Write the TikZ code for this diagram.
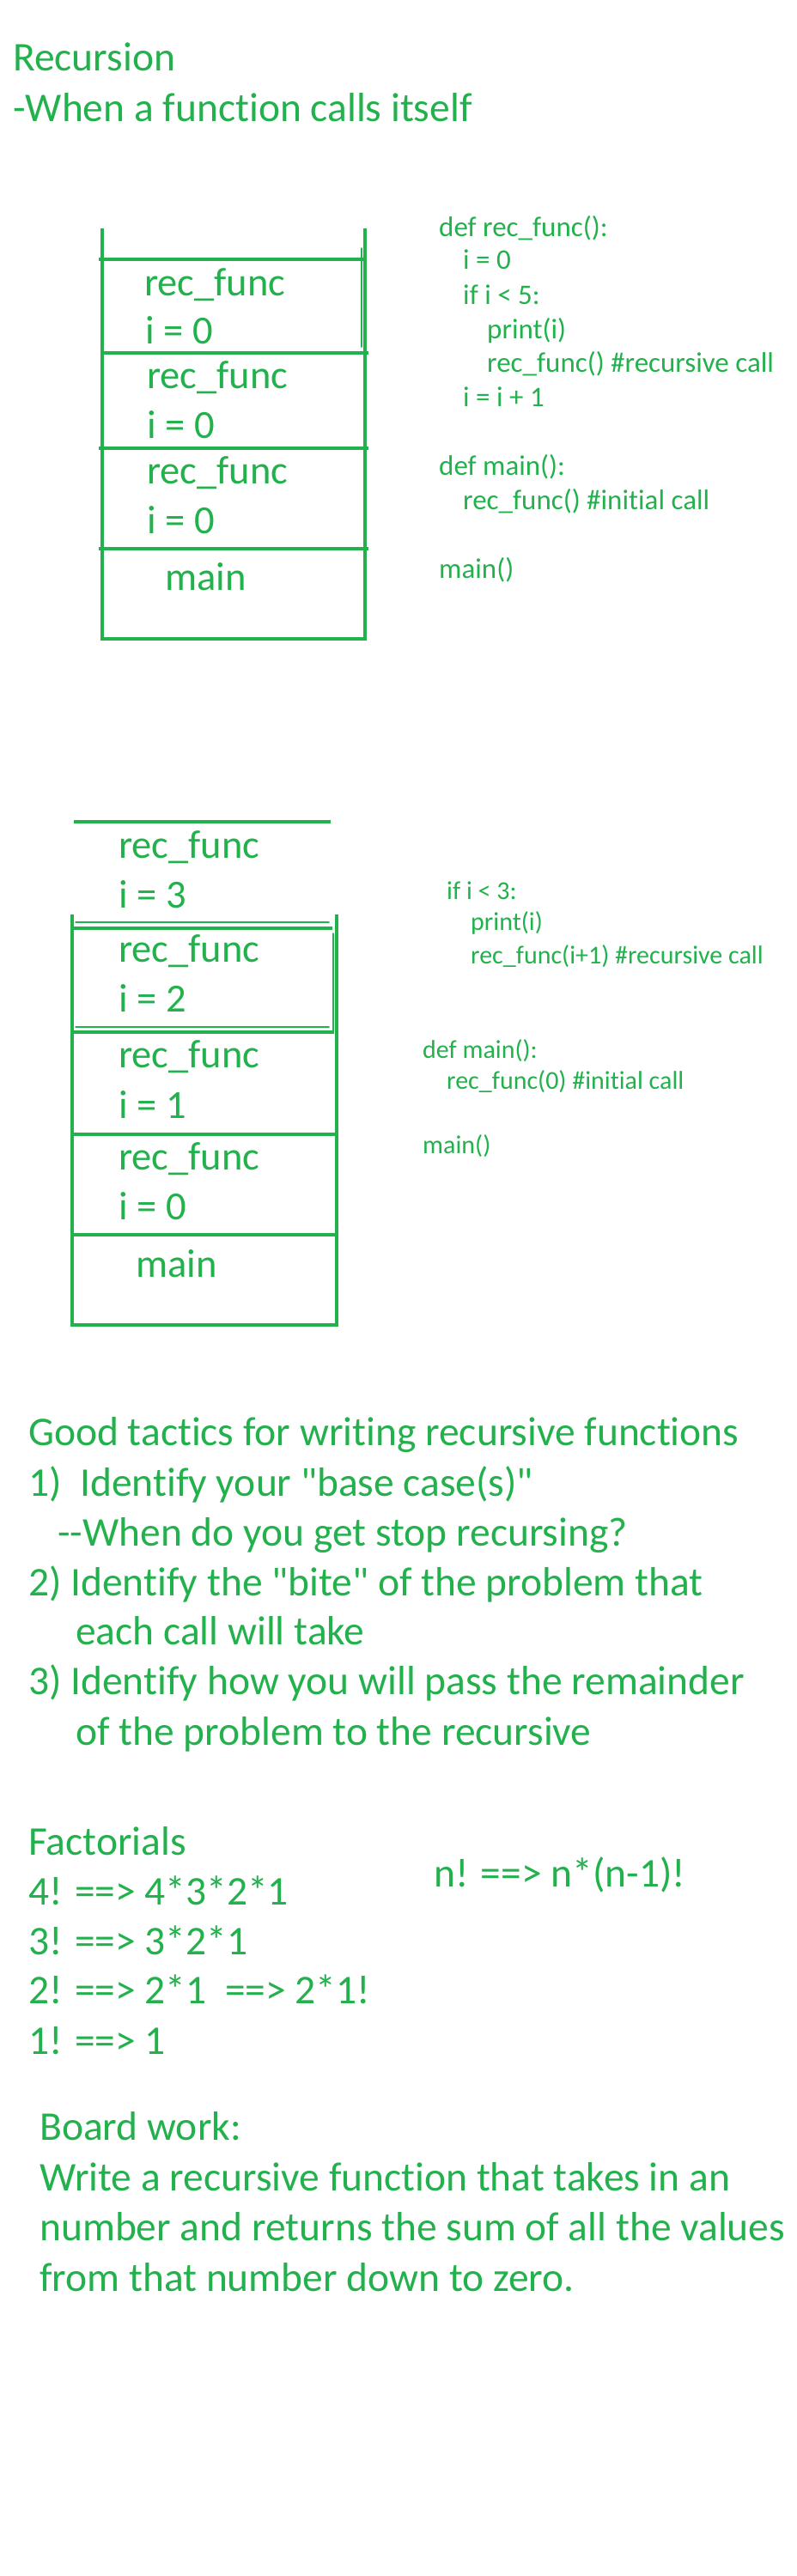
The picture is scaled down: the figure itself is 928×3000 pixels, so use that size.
\documentclass[tikz,border=0pt]{standalone}
\usepackage{fontspec}
\setmainfont{Carlito}[Ligatures={TeXOff,NoCommon}]
\usepackage{tkz-euclide}
\definecolor{paint}{RGB}{34,177,76}
\tikzset{
  txt/.style={anchor=base west,inner sep=0pt,text=paint,font=\fontsize{47.5}{56}\selectfont},
  cell/.style={txt,font=\fontsize{46.5}{56}\selectfont},
  code/.style={txt,font=\fontsize{33}{38}\selectfont},
  smallcode/.style={txt,font=\fontsize{30}{36}\selectfont},
  thinseg/.style={line width=1.5pt,color=paint}
}

\begin{document}
\begin{tikzpicture}[x=1pt,y=-1pt]
\useasboundingbox (0,0) rectangle (928,3000);
\tkzSetUpLine[line width=4pt,color=paint]

% title
\node[txt] (title) at (15,83) {Recursion};
\node[txt] (def) at (15,142) {-When a function calls itself};

% first stack
\tkzDefPoints{119/268/P1,119/744/P2,425/268/P3,425/744/P4}
\tkzDefPoints{117/302/Q1,422/302/Q2,122/411/Q3,427/411/Q4,
  117/522/Q5,427/522/Q6,117/639/Q7,427/639/Q8,421/289/R1,421/404/R2}
\tkzDrawSegments[line cap=rect](P1,P2 P3,P4 P2,P4 Q1,Q2 Q3,Q4 Q5,Q6 Q7,Q8)
\tkzDrawSegments[thinseg](R1,R2)

\node[cell] (fa1) at (168,344) {rec\_func};
\node[cell] (ia1) at (169,400) {i = 0};
\node[cell] (fa2) at (171,452) {rec\_func};
\node[cell] (ia2) at (171,510) {i = 0};
\node[cell] (fa3) at (171,563) {rec\_func};
\node[cell] (ia3) at (171,621) {i = 0};
\node[cell] (ma) at (192,687) {main};

% first code
\node[code] (ca1) at (511,275) {def rec\_func():};
\node[code] (ca2) at (539,313) {i = 0};
\node[code] (ca3) at (539,354) {if i < 5:};
\node[code] (ca4) at (567,394) {print(i)};
\node[code] (ca5) at (567,433) {rec\_func() \#recursive call};
\node[code] (ca6) at (539,473) {i = i + 1};
\node[code] (ca7) at (511,553) {def main():};
\node[code] (ca8) at (539,593) {rec\_func() \#initial call};
\node[code] (ca9) at (511,673) {main()};

% second stack
\tkzDefPoints{88/957/U1,383/957/U2,84/1067/V1,84/1543/V2,392/1067/V3,392/1543/V4}
\tkzDefPoints{88/1074/W1,383/1074/W2,88/1081/W3,385/1081/W4,388/1087/X1,388/1203/X2,
  88/1196/W5,383/1196/W6,88/1202/W7,387/1202/W8,84/1321/Y1,392/1321/Y2,84/1438/Y3,392/1438/Y4}
\tkzDrawSegments[line cap=rect](U1,U2 V1,V2 V3,V4 V2,V4 W3,W4 W7,W8 Y1,Y2 Y3,Y4)
\tkzDrawSegments[thinseg](W1,W2 W5,W6 X1,X2)

\node[cell] (fb1) at (138,999) {rec\_func};
\node[cell] (ib1) at (138,1057) {i = 3};
\node[cell] (fb2) at (138,1120) {rec\_func};
\node[cell] (ib2) at (138,1178) {i = 2};
\node[cell] (fb3) at (138,1243) {rec\_func};
\node[cell] (ib3) at (138,1302) {i = 1};
\node[cell] (fb4) at (138,1362) {rec\_func};
\node[cell] (ib4) at (138,1420) {i = 0};
\node[cell] (mb) at (158,1487) {main};

% second code
\node[smallcode] (cb1) at (520,1047) {if i < 3:};
\node[smallcode] (cb2) at (548,1083) {print(i)};
\node[smallcode] (cb3) at (548,1122) {rec\_func(i+1) \#recursive call};
\node[smallcode] (cb4) at (492,1232) {def main():};
\node[smallcode] (cb5) at (520,1268) {rec\_func(0) \#initial call};
\node[smallcode] (cb6) at (492,1343) {main()};

% tactics
\node[txt] (t0) at (33,1683) {Good tactics for writing recursive functions};
\node[txt] (t1) at (33,1742) {1)\ \ Identify your "base case(s)"};
\node[txt] (t2) at (67,1800) {--When do you get stop recursing?};
\node[txt] (t3) at (33,1858) {2) Identify the "bite" of the problem that};
\node[txt] (t4) at (88,1915) {each call will take};
\node[txt] (t5) at (33,1973) {3) Identify how you will pass the remainder};
\node[txt] (t6) at (88,2032) {of the problem to the recursive};

% factorials
\node[txt] (f0) at (33,2160) {Factorials};
\node[txt] (f4) at (33,2218) {4! ==> 4*3*2*1};
\node[txt] (f3) at (33,2276) {3! ==> 3*2*1};
\node[txt] (f2) at (33,2333) {2! ==> 2*1\ \ ==> 2*1!};
\node[txt] (f1) at (33,2392) {1! ==> 1};
\node[txt] (fn) at (505,2197) {n! ==> n*(n-1)!};

% board work
\node[txt] (b0) at (46,2492) {Board work:};
\node[txt] (b1) at (46,2551) {Write a recursive function that takes in an};
\node[txt] (b2) at (46,2609) {number and returns the sum of all the values};
\node[txt] (b3) at (46,2668) {from that number down to zero.};

\end{tikzpicture}
\end{document}
